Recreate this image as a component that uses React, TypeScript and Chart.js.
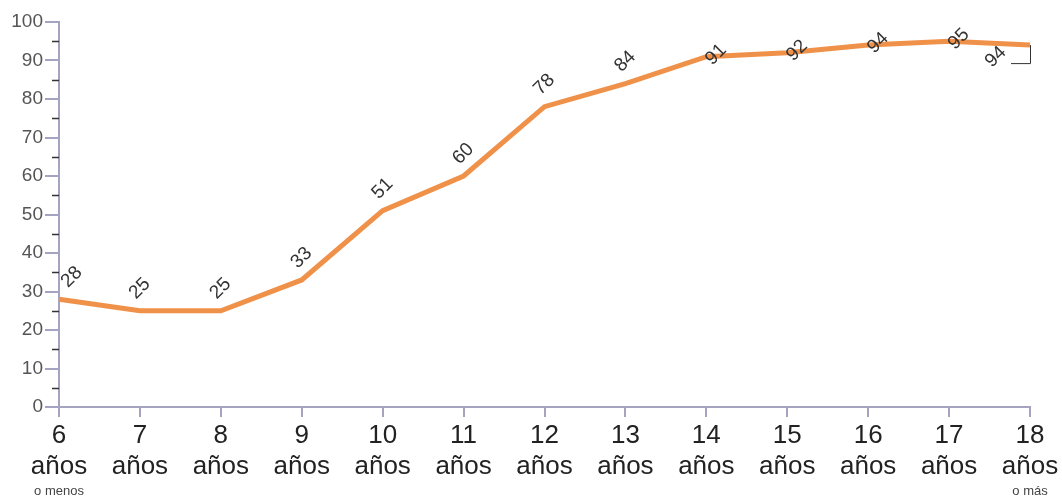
import React, { useEffect, useRef } from "react";
import { Chart, registerables } from "chart.js";

Chart.register(...registerables);

const ages = ["6", "7", "8", "9", "10", "11", "12", "13", "14", "15", "16", "17", "18"];
const values = [28, 25, 25, 33, 51, 60, 78, 84, 91, 92, 94, 95, 94];
const subLabels: Record<string, string> = { "6": "o menos", "18": "o más" };
const unitLabel = "años";
const yTicks = [0, 10, 20, 30, 40, 50, 60, 70, 80, 90, 100];
const yMinorTicks = [5, 15, 25, 35, 45, 55, 65, 75, 85, 95];

const FONT = "'Liberation Sans', Arial, sans-serif";
const AXIS_COLOR = "#a4a4c2";

const decorPlugin = {
  id: "decor",
  afterDraw(chart: any) {
    const ctx = chart.ctx;
    const yScale = chart.scales.y;
    const xScale = chart.scales.x;
    const area = chart.chartArea;
    ctx.save();
    // minor y ticks
    ctx.strokeStyle = "#333";
    ctx.lineWidth = 1.5;
    yMinorTicks.forEach((v) => {
      const y = Math.round(yScale.getPixelForValue(v)) + 0.5;
      ctx.beginPath();
      ctx.moveTo(area.left - 7, y);
      ctx.lineTo(area.left, y);
      ctx.stroke();
    });
    // sub labels
    ctx.fillStyle = "#444";
    ctx.font = `13px ${FONT}`;
    ctx.textAlign = "center";
    ctx.textBaseline = "middle";
    ages.forEach((a, i) => {
      const s = subLabels[a];
      if (s) {
        ctx.fillText(s, xScale.getPixelForValue(i), area.bottom + 84);
      }
    });
    // data labels
    const meta = chart.getDatasetMeta(0);
    ctx.font = `19px ${FONT}`;
    ctx.fillStyle = "#333";
    ctx.textAlign = "left";
    ctx.textBaseline = "alphabetic";
    meta.data.forEach((pt: any, i: number) => {
      const txt = String(values[i]);
      let ax = Math.max(pt.x - 4, area.left + 9);
      let ay = pt.y - 11;
      const last = i === values.length - 1;
      if (last) {
        ax = pt.x - 38;
        ay = pt.y + 23;
        ctx.save();
        ctx.strokeStyle = "#333";
        ctx.lineWidth = 1;
        ctx.beginPath();
        ctx.moveTo(pt.x - 19, pt.y + 18.5);
        ctx.lineTo(pt.x + 0.5, pt.y + 18.5);
        ctx.lineTo(pt.x + 0.5, pt.y);
        ctx.stroke();
        ctx.restore();
      } else if (ay - 22 < area.top + 8) {
        ax = pt.x + 6;
        ay = pt.y + 9;
      }
      ctx.save();
      ctx.translate(ax, ay);
      ctx.rotate(-Math.PI / 4);
      ctx.fillText(txt, 0, 0);
      ctx.restore();
    });
    ctx.restore();
  },
};

export default function App() {
  const ref = useRef<HTMLCanvasElement>(null);
  useEffect(() => {
    document.body.style.margin = "0";
    const chart = new Chart(ref.current as HTMLCanvasElement, {
      type: "line",
      data: {
        labels: ages,
        datasets: [
          {
            data: values,
            borderColor: "#F0914A",
            borderWidth: 5,
            pointRadius: 0,
            tension: 0,
            fill: false,
            clip: false as any,
          },
        ],
      },
      options: {
        animation: false,
        responsive: false,
        maintainAspectRatio: false,
        layout: { padding: { top: 22, right: 32, left: 0, bottom: 0 } },
        plugins: { legend: { display: false }, tooltip: { enabled: false } },
        scales: {
          x: {
            type: "category",
            offset: false,
            afterFit: (s: any) => {
              s.height = 90;
            },
            grid: {
              drawOnChartArea: false,
              drawTicks: true,
              tickLength: 10,
              color: AXIS_COLOR,
              lineWidth: 2,
            },
            border: { color: AXIS_COLOR, width: 2 },
            ticks: {
              autoSkip: false,
              maxRotation: 0,
              padding: 3,
              color: "#222",
              font: { size: 26, family: FONT, lineHeight: 1.2 },
              callback: (_v: any, i: number) => [ages[i], unitLabel],
            },
          },
          y: {
            min: 0,
            max: 100,
            afterFit: (s: any) => {
              s.width = 59;
            },
            afterBuildTicks: (s: any) => {
              s.ticks = yTicks.map((v) => ({ value: v }));
            },
            grid: {
              drawOnChartArea: false,
              drawTicks: true,
              tickLength: 14,
              color: AXIS_COLOR,
              lineWidth: 2,
            },
            border: { color: AXIS_COLOR, width: 2 },
            ticks: {
              padding: 2,
              color: "#555",
              font: { size: 19, family: FONT },
            },
          },
        },
      },
      plugins: [decorPlugin],
    });
    return () => chart.destroy();
  }, []);
  return (
    <div style={{ position: "absolute", left: 0, top: 0, width: 1062, height: 497 }}>
      <canvas ref={ref} width={1062} height={497} style={{ display: "block" }} />
    </div>
  );
}
